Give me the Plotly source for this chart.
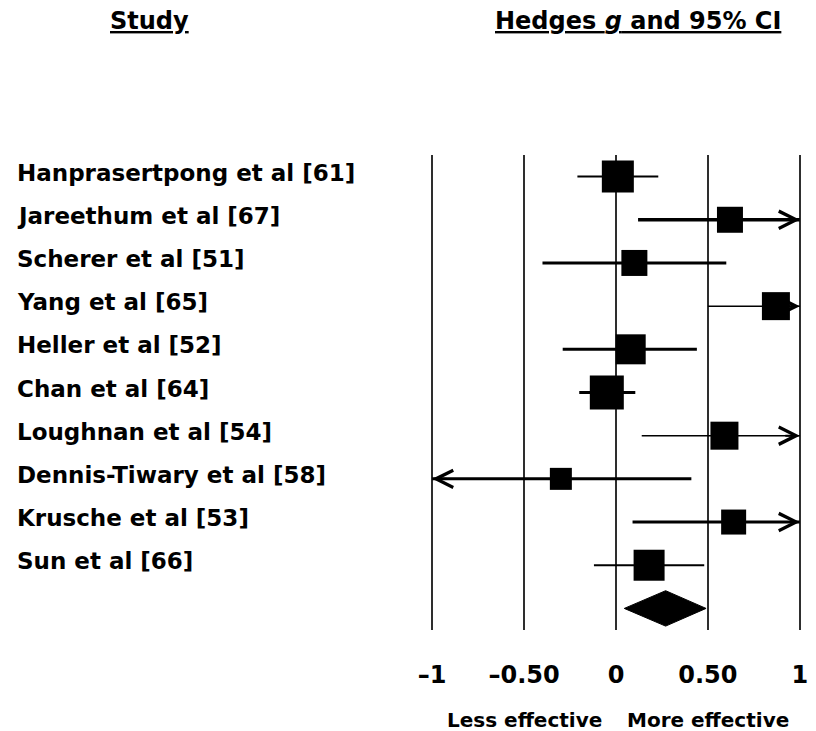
import plotly.graph_objects as go

# ---------------- data ----------------
studies = [
    "Hanprasertpong et al [61]",
    "Jareethum et al [67]",
    "Scherer et al [51]",
    "Yang et al [65]",
    "Heller et al [52]",
    "Chan et al [64]",
    "Loughnan et al [54]",
    "Dennis-Tiwary et al [58]",
    "Krusche et al [53]",
    "Sun et al [66]",
]
hedges_g = [0.01, 0.62, 0.10, 0.87, 0.08, -0.05, 0.59, -0.30, 0.64, 0.18]
ci_lower = [-0.21, 0.12, -0.40, 0.50, -0.29, -0.20, 0.14, -1.01, 0.09, -0.12]
ci_upper = [0.23, 1.12, 0.60, 1.24, 0.44, 0.105, 1.04, 0.41, 1.19, 0.48]
weights = [32, 26, 26, 28, 30, 34, 28, 22, 25, 31]

pooled_g = 0.27
pooled_lower = 0.045
pooled_upper = 0.49

tick_values = [-1, -0.5, 0, 0.5, 1]
tick_labels = ["\u20131", "\u20130.50", "0", "0.50", "1"]

# ---------------- style ----------------
ci_line_widths = [2, 3.5, 3, 1.5, 3, 3, 1.5, 3, 3, 2]
FONT = "DejaVu Sans"
W, H = 816, 731
L, R, T, B = 423, 7, 155, 101
X_RANGE = [-1.05, 1.05]
AXIS_MIN, AXIS_MAX = -1.0, 1.0
n = len(studies)


def paper_x(px):
    return (px - L) / (W - L - R)


def paper_y(py):
    return (H - B - py) / (H - T - B)


fig = go.Figure()

# CI lines
for i, (lo, hi) in enumerate(zip(ci_lower, ci_upper)):
    fig.add_trace(go.Scatter(
        x=[max(lo, AXIS_MIN), min(hi, AXIS_MAX)], y=[i, i], mode="lines",
        line=dict(color="black", width=ci_line_widths[i]),
        hoverinfo="skip", showlegend=False,
    ))

# study boxes
fig.add_trace(go.Scatter(
    x=hedges_g, y=list(range(n)), mode="markers",
    marker=dict(symbol="square", size=weights, color="black", opacity=1,
                line=dict(width=0)),
    showlegend=False,
))

# pooled diamond
half_h = 0.41
fig.add_trace(go.Scatter(
    x=[pooled_lower, pooled_g, pooled_upper, pooled_g, pooled_lower],
    y=[n, n - half_h, n, n + half_h, n],
    mode="lines", fill="toself", fillcolor="black",
    line=dict(color="black", width=1), showlegend=False,
))

annotations = []
# arrows for truncated CIs (chevrons at the axis limit)
for i, (lo, hi) in enumerate(zip(ci_lower, ci_upper)):
    if hi > AXIS_MAX:
        annotations.append(dict(
            x=AXIS_MAX, y=i, ax=-16, ay=0, xref="x", yref="y",
            text="", showarrow=True, arrowhead=5, standoff=0,
            arrowsize=1.7, arrowwidth=2, arrowcolor="black"))
    if lo < AXIS_MIN:
        annotations.append(dict(
            x=AXIS_MIN, y=i, ax=16, ay=0, xref="x", yref="y",
            text="", showarrow=True, arrowhead=5, standoff=0,
            arrowsize=1.7, arrowwidth=2, arrowcolor="black"))

# study labels
for i, s in enumerate(studies):
    annotations.append(dict(
        x=paper_x(15), y=i, xref="paper", yref="y", xanchor="left",
        yanchor="middle", yshift=4, text=s, showarrow=False,
        font=dict(family=FONT, size=23, color="black", weight="bold")))

# headers
annotations.append(dict(
    x=paper_x(149), y=paper_y(21), xref="paper", yref="paper",
    xanchor="center", yanchor="middle", text="<u>Study</u>", showarrow=False,
    font=dict(family=FONT, size=24, color="black", weight="bold")))
annotations.append(dict(
    x=paper_x(637.5), y=paper_y(21), xref="paper", yref="paper",
    xanchor="center", yanchor="middle",
    text="<u>Hedges <i>g</i> and 95% CI</u>", showarrow=False,
    font=dict(family=FONT, size=24, color="black", weight="bold")))

# direction labels
annotations.append(dict(
    x=-0.5, y=paper_y(720), xref="x", yref="paper", xanchor="center",
    yanchor="middle", text="Less effective", showarrow=False,
    font=dict(family=FONT, size=20, color="black", weight="bold")))
annotations.append(dict(
    x=0.5, y=paper_y(720), xref="x", yref="paper", xanchor="center",
    yanchor="middle", text="More effective", showarrow=False,
    font=dict(family=FONT, size=20, color="black", weight="bold")))

fig.update_layout(
    width=W, height=H,
    margin=dict(l=L, r=R, t=T, b=B, pad=0),
    paper_bgcolor="white", plot_bgcolor="white",
    annotations=annotations,
    showlegend=False,
    xaxis=dict(
        range=X_RANGE, tickvals=tick_values, ticktext=tick_labels,
        showgrid=True, gridcolor="#2e2e2e", gridwidth=2,
        zeroline=False, showline=False, ticks="",
        tickfont=dict(family=FONT, size=24, color="black", weight="bold"),
        ticklabelstandoff=28, fixedrange=True,
    ),
    yaxis=dict(range=[n + 0.5, -0.5], visible=False, showgrid=False,
               zeroline=False, fixedrange=True),
)

fig.write_html("out.html")
